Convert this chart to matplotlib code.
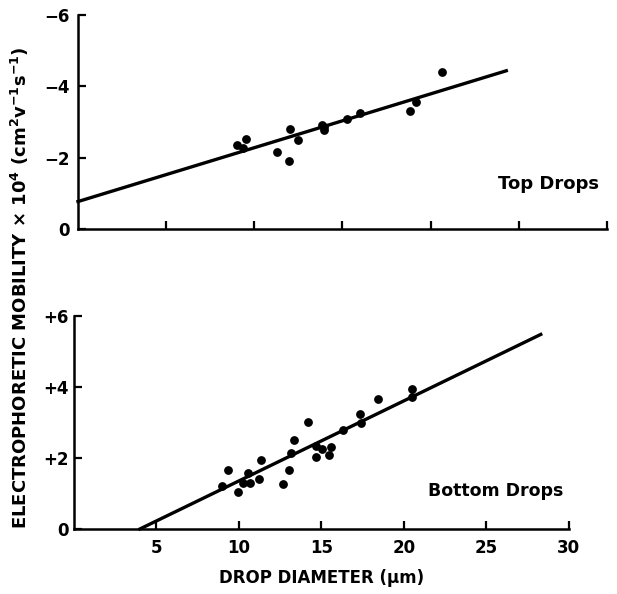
import numpy as np
import matplotlib.pyplot as plt

# top drops (diameter um, mobility magnitude)
top_d = [9.0, 9.55, 9.36, 11.3, 12.05, 12.0, 12.46, 13.85, 13.94, 13.97, 15.27, 15.98, 18.86, 19.15, 20.66]
top_m = [2.35, 2.52, 2.26, 2.15, 2.80, 1.91, 2.50, 2.92, 2.78, 2.85, 3.08, 3.26, 3.31, 3.57, 4.41]
top_fit = (0.77, 0.151)      # intercept, slope
top_fit_x = [0, 24.3]

# bottom drops
bot_d = [8.99, 9.35, 9.92, 10.22, 10.57, 10.67, 11.21, 11.33, 12.65, 13.05, 13.13, 13.33,
         14.2, 14.65, 14.67, 15.05, 15.56, 15.47, 16.32, 17.33, 17.43, 18.45, 20.47, 20.47]
bot_m = [1.21, 1.65, 1.04, 1.31, 1.59, 1.29, 1.41, 1.93, 1.27, 1.65, 2.14, 2.52,
         3.01, 2.34, 2.02, 2.26, 2.30, 2.08, 2.80, 3.25, 3.00, 3.65, 3.93, 3.72]
bot_fit = (-0.90, 0.2255)
bot_fit_x = [4.0, 28.3]

x_ticks = [5, 10, 15, 20, 25, 30]
y_ticks = [0, 2, 4, 6]
top_ylabels = ['0', '\u22122', '\u22124', '\u22126']
bot_ylabels = ['0', '+2', '+4', '+6']

plt.rcParams['font.family'] = ['DejaVu Sans']
plt.rcParams['font.weight'] = 'bold'

fig = plt.figure(figsize=(6.17, 5.94), dpi=100)
ax1 = fig.add_axes([0.1264, 0.6145, 0.857, 0.360])
ax2 = fig.add_axes([0.1199, 0.1094, 0.802, 0.3586])


def style(ax, pad_y):
    ax.set_xlim(0, 30)
    ax.set_ylim(0, 6)
    for s in ['top', 'right']:
        ax.spines[s].set_visible(False)
    for s in ['left', 'bottom']:
        ax.spines[s].set_linewidth(1.8)
    ax.tick_params(direction='in', length=6, width=1.6, labelsize=12)
    ax.tick_params(axis='y', pad=pad_y)
    ax.tick_params(axis='x', pad=7)
    ax.set_xticks(x_ticks)
    ax.set_yticks(y_ticks)


style(ax1, 6)
style(ax2, 4)

# top panel
ax1.scatter(top_d, top_m, s=28, color='black', zorder=3)
fx = np.array(top_fit_x)
ax1.plot(fx, top_fit[0] + top_fit[1] * fx, color='black', lw=2.4, clip_on=False)
ax1.set_xticklabels([])
ax1.set_yticklabels(top_ylabels, fontweight='bold')
ax1.text(0.985, 0.21, 'Top Drops', transform=ax1.transAxes, ha='right', va='center',
         fontsize=13, fontweight='bold')

# bottom panel
ax2.scatter(bot_d, bot_m, s=28, color='black', zorder=3)
fx = np.array(bot_fit_x)
ax2.plot(fx, bot_fit[0] + bot_fit[1] * fx, color='black', lw=2.4, clip_on=False)
ax2.set_xticklabels([str(t) for t in x_ticks], fontweight='bold')
ax2.set_yticklabels(bot_ylabels, fontweight='bold')
ax2.text(0.99, 0.18, 'Bottom Drops', transform=ax2.transAxes, ha='right', va='center',
         fontsize=12.5, fontweight='bold')
ax2.set_xlabel('DROP DIAMETER (\u03bcm)', fontsize=12, fontweight='bold', labelpad=9)

fig.text(0.033, 0.515, 'ELECTROPHORETIC MOBILITY \u00d7 10$^4$ (cm$^2$v$^{-1}$s$^{-1}$)',
         rotation=90, ha='center', va='center', fontsize=13, fontweight='bold')

fig.savefig('out.png', dpi=100)
